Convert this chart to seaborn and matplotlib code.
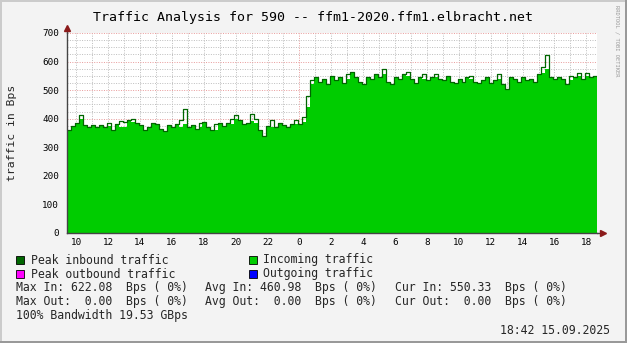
import numpy as np
import pandas as pd
import matplotlib
matplotlib.use("Agg")
import matplotlib.pyplot as plt
from matplotlib.patches import Rectangle
import seaborn as sns

# ---------------- data ----------------
title = "Traffic Analysis for 590 -- ffm1-2020.ffm1.elbracht.net"
y_label = "traffic in Bps"
start_hour = 9.42          # first sample (hours since previous midnight)
sample_hours = 0.25        # 15 minute samples

peak_in = [360, 375, 385, 412, 378, 372, 378, 370, 378, 372,
           385, 362, 380, 392, 388, 395, 400, 385, 378, 360,
           372, 385, 383, 365, 358, 378, 370, 380, 395, 435,
           370, 378, 365, 385, 390, 370, 360, 380, 385, 375,
           385, 400, 412, 395, 380, 385, 415, 400, 360, 340,
           375, 395, 370, 385, 378, 370, 380, 395, 380, 405,
           480, 535, 545, 530, 540, 520, 550, 535, 545, 525,
           555, 565, 545, 530, 520, 545, 540, 555, 545, 575,
           530, 520, 545, 540, 555, 565, 540, 525, 545, 555,
           535, 545, 555, 540, 535, 550, 530, 525, 540, 530,
           545, 550, 530, 525, 535, 545, 525, 535, 555, 520,
           505, 545, 540, 530, 545, 535, 540, 530, 555, 580,
           622, 545, 540, 545, 540, 520, 550, 545, 560, 540,
           560, 545, 550]

incoming = [360, 375, 385, 400, 378, 372, 378, 370, 378, 372,
            375, 362, 380, 372, 372, 395, 390, 385, 378, 360,
            372, 385, 383, 365, 358, 378, 370, 380, 372, 382,
            370, 378, 365, 370, 390, 370, 360, 362, 385, 375,
            385, 380, 398, 395, 380, 385, 392, 385, 360, 340,
            375, 372, 370, 385, 378, 370, 380, 380, 380, 390,
            440, 520, 545, 530, 540, 520, 550, 535, 545, 525,
            540, 565, 545, 530, 520, 545, 540, 555, 545, 555,
            530, 520, 545, 540, 555, 550, 540, 525, 545, 540,
            535, 545, 545, 540, 535, 550, 530, 525, 540, 530,
            545, 540, 530, 525, 535, 545, 525, 535, 540, 520,
            505, 545, 540, 530, 545, 535, 540, 530, 555, 560,
            575, 545, 540, 545, 540, 520, 535, 545, 548, 540,
            550, 545, 550]

x_tick_hours = list(range(10, 43, 2))
x_tick_labels = [str(h % 24) for h in x_tick_hours]
y_ticks = [0, 100, 200, 300, 400, 500, 600, 700]

legend_labels = ["Peak inbound traffic", "Incoming traffic",
                 "Peak outbound traffic", "Outgoing traffic"]
legend_colors = ["#006600", "#00cc00", "#ff00ff", "#0000ff"]

stats_in = ["Max In: 622.08  Bps ( 0%)", "Avg In: 460.98  Bps ( 0%)",
            "Cur In: 550.33  Bps ( 0%)"]
stats_out = ["Max Out:  0.00  Bps ( 0%)", "Avg Out:  0.00  Bps ( 0%)",
             "Cur Out:  0.00  Bps ( 0%)"]
bandwidth_text = "100% Bandwidth 19.53 GBps"
timestamp_text = "18:42 15.09.2025"
watermark = "RRDTOOL / TOBI OETIKER"

# ---------------- figure ----------------
sns.set_theme(style="white")
plt.rcParams["font.family"] = ["DejaVu Sans Mono", "DejaVu Sans"]

W, H = 627, 343
BG = "#f3f3f3"
fig = plt.figure(figsize=(W / 100, H / 100), dpi=100, facecolor=BG)


def fx(px):
    return px / W


def fy(py):
    return 1 - py / H


ax = fig.add_axes([fx(67), fy(233), fx(530), 200 / H])
ax.set_facecolor("white")

n = len(incoming)
edges = start_hour + sample_hours * np.arange(n + 1)
df = pd.DataFrame({"t": edges,
                   "incoming": incoming + [incoming[-1]],
                   "peak": peak_in + [peak_in[-1]]})

x0, x1 = edges[0], edges[-1]
ax.set_xlim(x0, x1)
ax.set_ylim(0, 700)

# grid (rrdtool style, dotted)
minor_c = "#bdbdbd"
major_c = "#e89a9a"
for h in range(10, 43):
    ax.axvline(h, color=major_c if h == 24 else minor_c, lw=0.7,
               ls=(0, (1, 1.5)), zorder=0)
for v in range(25, 701, 25):
    ax.axhline(v, color=major_c if v % 100 == 0 else minor_c, lw=0.7,
               ls=(0, (1, 1.5)), zorder=0)

# area + peak outline
ax.fill_between(df["t"], df["incoming"], step="post", color="#00cc00",
                lw=0, zorder=2)
sns.lineplot(data=df, x="t", y="peak", drawstyle="steps-post",
             color="#006600", lw=0.9, ax=ax, zorder=3, legend=False)

ax.set_xlabel("")
ax.set_ylabel("")
ax.set_xticks(x_tick_hours)
ax.set_xticklabels(x_tick_labels)
ax.set_yticks(y_ticks)
ax.set_yticklabels([str(v) for v in y_ticks])
ax.tick_params(axis="both", which="major", length=2, width=0.8,
               color="#555555", labelsize=6.7, labelcolor="black",
               direction="out")
ax.tick_params(axis="x", pad=1.5)
ax.tick_params(axis="y", pad=3.7)

for s in ["top", "right"]:
    ax.spines[s].set_visible(False)
for s in ["left", "bottom"]:
    ax.spines[s].set_color("#444444")
    ax.spines[s].set_linewidth(1.0)
    ax.spines[s].set_zorder(5)

# axis arrows
arrow_c = "#8b1a1a"
ax.plot([0, 0], [1, 1.02], transform=ax.transAxes, color="#444444",
        lw=1, clip_on=False, zorder=5)
ax.plot([0], [1.025], marker="^", ms=4, color=arrow_c,
        transform=ax.transAxes, clip_on=False, zorder=6)
ax.plot([1, 1.008], [0, 0], transform=ax.transAxes, color="#444444",
        lw=1, clip_on=False, zorder=5)
ax.plot([1.011], [0], marker=">", ms=4, color=arrow_c,
        transform=ax.transAxes, clip_on=False, zorder=6)

# texts
fig.text(fx(313), fy(21.5), title, ha="center", va="baseline",
         fontsize=9.5, color="black")
fig.text(fx(12), fy(132.5), y_label, rotation=90, ha="center",
         va="center", fontsize=8.2)
fig.text(fx(617), fy(5), watermark, rotation=270, ha="center", va="top",
         fontsize=3.9, color="#9a9a9a")

# legend
legend_pos = [(16, 31, 263.5), (249, 263, 263.5),
              (16, 31, 277.5), (249, 263, 277.5)]
for k, (sx, tx, base) in enumerate(legend_pos):
    fig.patches.append(Rectangle((fx(sx), fy(base)), 8 / W, 8 / H,
                                 transform=fig.transFigure,
                                 facecolor=legend_colors[k],
                                 edgecolor="black", lw=0.6))
    fig.text(fx(tx), fy(base), legend_labels[k], ha="left",
             va="baseline", fontsize=8.3)

cols = [16, 205, 395]
for cx, s in zip(cols, stats_in):
    fig.text(fx(cx), fy(291.5), s, ha="left", va="baseline", fontsize=8.3)
for cx, s in zip(cols, stats_out):
    fig.text(fx(cx), fy(305.5), s, ha="left", va="baseline", fontsize=8.3)
fig.text(fx(16), fy(319.5), bandwidth_text, ha="left", va="baseline",
         fontsize=8.3)
fig.text(fx(610), fy(333.5), timestamp_text, ha="right", va="baseline",
         fontsize=8.3)

# 3D frame
fig.patches.append(Rectangle((0, 0), 2 / W, 1, transform=fig.transFigure,
                             facecolor="#cbcbcb", lw=0))
fig.patches.append(Rectangle((0, 1 - 2 / H), 1, 2 / H,
                             transform=fig.transFigure,
                             facecolor="#cbcbcb", lw=0))
fig.patches.append(Rectangle((1 - 2 / W, 0), 2 / W, 1,
                             transform=fig.transFigure,
                             facecolor="#999999", lw=0))
fig.patches.append(Rectangle((0, 0), 1, 2 / H, transform=fig.transFigure,
                             facecolor="#999999", lw=0))

fig.savefig("out.png", dpi=100, facecolor=BG)
